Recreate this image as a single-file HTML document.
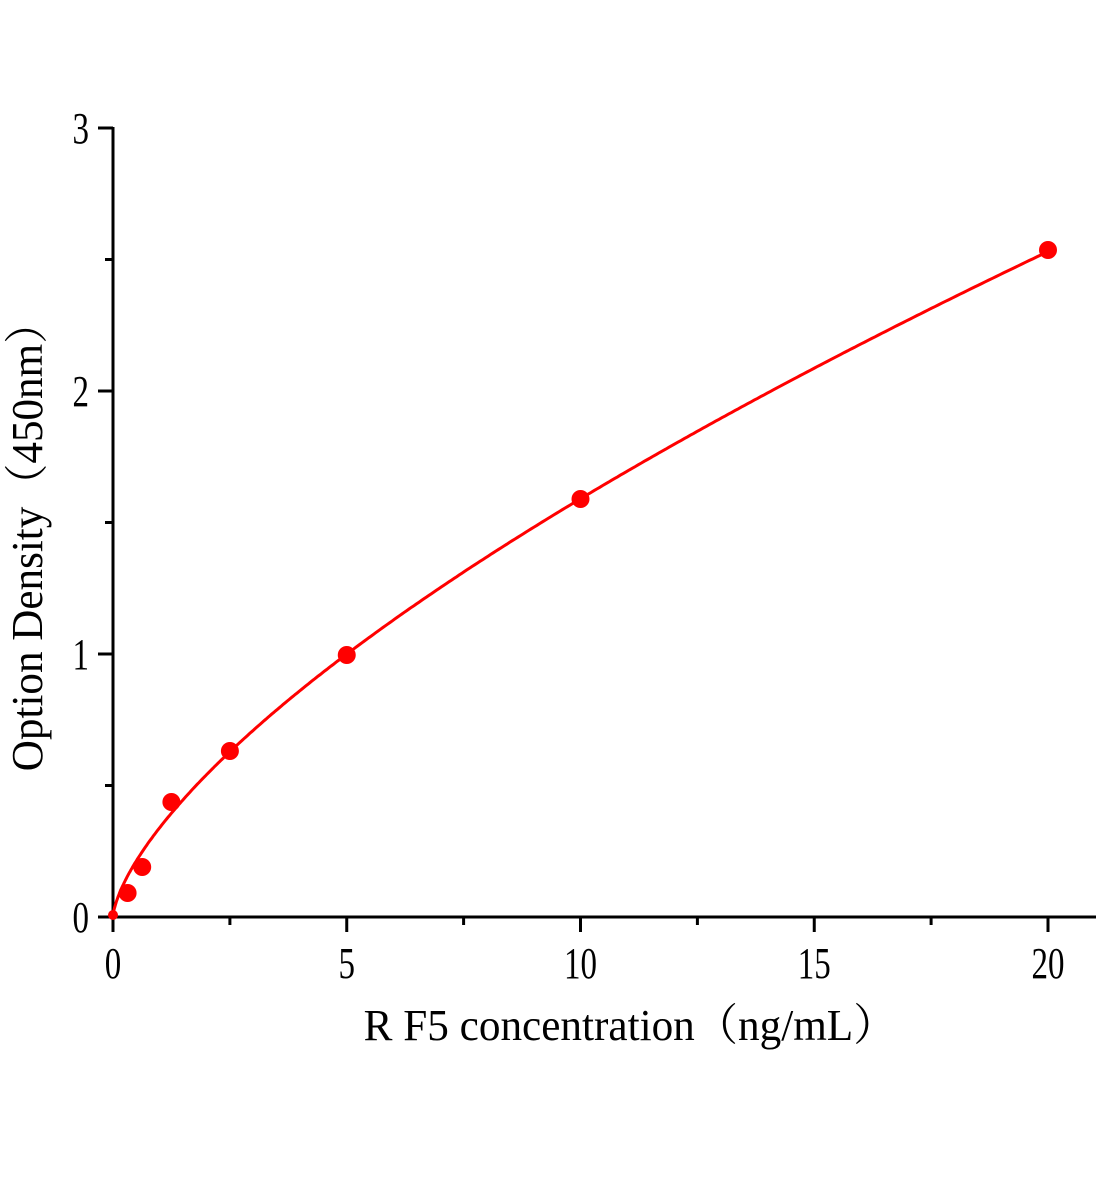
<!DOCTYPE html>
<html><head><meta charset="utf-8"><style>
html,body{margin:0;padding:0;background:#fff;}
svg{display:block;}
text{font-family:"Liberation Serif","Noto Serif CJK SC",serif;fill:#000;}
</style></head><body>
<svg width="1104" height="1200" viewBox="0 0 1104 1200" xmlns="http://www.w3.org/2000/svg">
<g stroke="#000" stroke-width="3" fill="none">
<line x1="113" y1="127" x2="113" y2="918"/>
<line x1="112" y1="917" x2="1096" y2="917"/>
<line x1="98" y1="128" x2="113" y2="128"/>
<line x1="98" y1="391" x2="113" y2="391"/>
<line x1="98" y1="654" x2="113" y2="654"/>
<line x1="98" y1="917" x2="113" y2="917"/>
<line x1="105" y1="259.5" x2="113" y2="259.5"/>
<line x1="105" y1="522.5" x2="113" y2="522.5"/>
<line x1="105" y1="785.5" x2="113" y2="785.5"/>
<line x1="113" y1="917" x2="113" y2="932"/>
<line x1="346.75" y1="917" x2="346.75" y2="932"/>
<line x1="580.5" y1="917" x2="580.5" y2="932"/>
<line x1="814.25" y1="917" x2="814.25" y2="932"/>
<line x1="1048" y1="917" x2="1048" y2="932"/>
<line x1="229.9" y1="917" x2="229.9" y2="925"/>
<line x1="463.6" y1="917" x2="463.6" y2="925"/>
<line x1="697.4" y1="917" x2="697.4" y2="925"/>
<line x1="931.1" y1="917" x2="931.1" y2="925"/>
</g>
<g font-size="44" text-anchor="end">
<text transform="translate(89,143) scale(0.75,1)">3</text>
<text transform="translate(89,406) scale(0.75,1)">2</text>
<text transform="translate(89,669) scale(0.75,1)">1</text>
<text transform="translate(89,932) scale(0.75,1)">0</text>
</g>
<g font-size="44" text-anchor="middle">
<text transform="translate(113,978) scale(0.75,1)">0</text>
<text transform="translate(346.75,978) scale(0.75,1)">5</text>
<text transform="translate(580.5,978) scale(0.75,1)">10</text>
<text transform="translate(814.25,978) scale(0.75,1)">15</text>
<text transform="translate(1048,978) scale(0.75,1)">20</text>
</g>
<text font-size="44" text-anchor="middle" transform="translate(630,1040) scale(0.8,1)" textLength="666" lengthAdjust="spacingAndGlyphs">R F5  concentration（ng/mL）</text>
<text font-size="44" text-anchor="middle" transform="translate(42,536) rotate(-90) scale(0.8,1)" textLength="588" lengthAdjust="spacingAndGlyphs">Option Density（450nm）</text>
<path id="curve" fill="none" stroke="#f00" stroke-width="3" d=""/>
<g fill="#f00">
<circle cx="113" cy="915" r="5"/>
<circle cx="127.6" cy="893" r="9"/>
<circle cx="142.2" cy="867" r="9"/>
<circle cx="171.4" cy="802" r="9"/>
<circle cx="229.9" cy="751" r="9"/>
<circle cx="346.75" cy="655" r="9"/>
<circle cx="580.5" cy="499" r="9"/>
<circle cx="1048" cy="250" r="9"/>
</g>
<script>
(function(){
var a=0.34,b=0.67,d="";
for(var i=0;i<=400;i++){
 var x=20*Math.pow(i/400,1.6);
 var y=a*Math.pow(x,b);
 var px=113+x*46.75, py=917-y*263;
 d+=(i?"L":"M")+px.toFixed(1)+","+py.toFixed(1)+" ";
}
document.getElementById("curve").setAttribute("d",d);
})();
</script>
</svg>
</body></html>
